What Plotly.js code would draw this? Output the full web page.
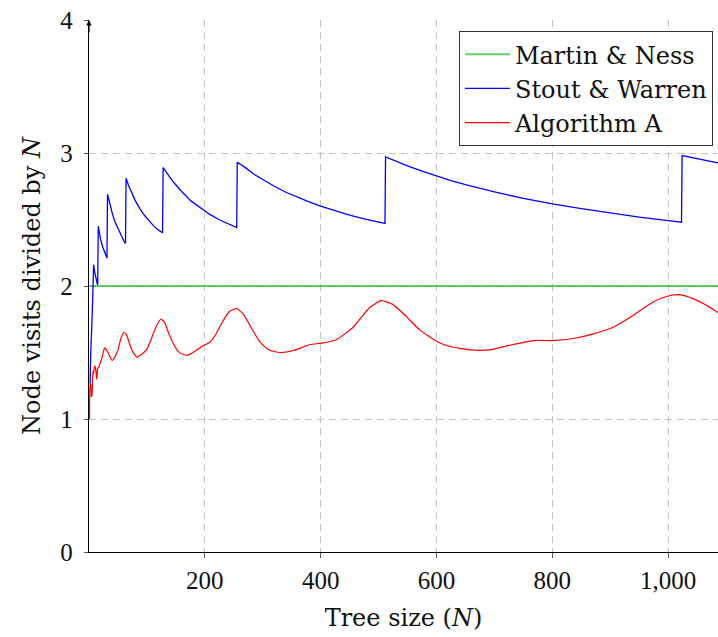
<!DOCTYPE html>
<html>
<head>
<meta charset="utf-8">
<script src="https://cdn.plot.ly/plotly-3.0.1.min.js"></script>
<style>
  html, body { margin: 0; padding: 0; background: #fff; }
  #chart { width: 718px; height: 637px; }
</style>
</head>
<body>
<div id="chart"></div>
<script>
// ---- data ----
const martinN = [1, 1086];
const martinY = [2.0, 2.0];

const stoutN = [1, 2, 3, 4, 5, 6, 7, 8, 10, 12, 14, 15,
  16, 18, 20, 24, 28, 31,
  32, 36, 40, 44, 48, 52, 56, 60, 63,
  64, 68, 72, 80, 88, 96, 104, 112, 120, 127,
  128, 136, 144, 152, 160, 176, 192, 208, 224, 240, 255,
  256, 270, 285, 300, 320, 340, 360, 380, 400, 425, 450, 475, 500, 511,
  512, 530, 550, 575, 600, 625, 650, 675, 700, 750, 800, 850, 900, 950, 1000, 1023,
  1024, 1050, 1086];
const stoutY = [1.27, 1.27, 1.50, 1.72, 1.72, 1.85, 2.00, 2.16, 2.10, 2.05, 2.02, 2.01,
  2.45, 2.40, 2.35, 2.29, 2.24, 2.21,
  2.69, 2.61, 2.55, 2.49, 2.45, 2.41, 2.38, 2.34, 2.32,
  2.81, 2.76, 2.72, 2.64, 2.58, 2.53, 2.49, 2.45, 2.42, 2.40,
  2.89, 2.84, 2.79, 2.75, 2.71, 2.64, 2.59, 2.54, 2.50, 2.47, 2.44,
  2.93, 2.89, 2.84, 2.80, 2.75, 2.705, 2.667, 2.632, 2.60, 2.565, 2.533, 2.505, 2.48, 2.47,
  2.97, 2.937, 2.903, 2.863, 2.827, 2.793, 2.762, 2.734, 2.707, 2.659, 2.617, 2.581, 2.548, 2.518, 2.492, 2.48,
  2.98, 2.955, 2.925];

const algoN = [1, 2, 3, 4, 5, 6, 7, 8, 9, 10, 12, 13, 14, 15, 17, 19, 21, 24, 27, 30, 33, 36, 40,
  45, 50, 55, 60, 64, 66, 72, 78, 83, 92, 100, 109, 117, 124, 130, 138, 147, 155, 163, 170,
  183, 197, 208, 218, 229, 243, 255, 266, 281, 295, 310, 330, 353, 382, 402, 428, 456, 485, 505,
  525, 548, 571, 600, 623, 658, 692, 727, 767, 800, 836, 871, 905, 940, 974, 1000, 1020,
  1043, 1066, 1086];
const algoY = [1.00, 1.26, 1.26, 1.17, 1.17, 1.30, 1.36, 1.34, 1.38, 1.40, 1.36, 1.30, 1.33, 1.38, 1.39, 1.42, 1.44, 1.49, 1.535, 1.52, 1.50, 1.47, 1.44,
  1.47, 1.52, 1.605, 1.65, 1.64, 1.62, 1.54, 1.49, 1.465, 1.49, 1.525, 1.62, 1.705, 1.75, 1.73, 1.64, 1.555, 1.505, 1.485, 1.48,
  1.51, 1.55, 1.575, 1.63, 1.72, 1.81, 1.83, 1.79, 1.68, 1.58, 1.52, 1.50, 1.515, 1.56, 1.57, 1.60, 1.69, 1.84, 1.89,
  1.86, 1.77, 1.67, 1.585, 1.545, 1.52, 1.52, 1.555, 1.59, 1.59, 1.605, 1.64, 1.69, 1.78, 1.88, 1.925, 1.935,
  1.905, 1.855, 1.80];

const xTickVals = [200, 400, 600, 800, 1000];
const xTickText = ['200', '400', '600', '800', '1,000'];
const yTickVals = [0, 1, 2, 3, 4];
const yTickText = ['0', '1', '2', '3', '4'];

// ---- chart ----
const textFont = { family: 'DejaVu Serif, serif', size: 24, color: '#111' };
const tickFont = { family: 'Liberation Serif, serif', size: 25, color: '#111' };

const traces = [
  { x: martinN, y: martinY, name: 'Martin &amp; Ness', mode: 'lines', type: 'scatter',
    line: { color: 'rgba(0,175,0,0.6)', width: 2 } },
  { x: stoutN, y: stoutY, name: 'Stout &amp; Warren', mode: 'lines', type: 'scatter',
    line: { color: '#0000ff', width: 1.3 } },
  { x: algoN, y: algoY, name: 'Algorithm A', mode: 'lines', type: 'scatter',
    line: { color: '#ff0000', width: 1.2, shape: 'spline', smoothing: 0.5 } }
];

const layout = {
  width: 718, height: 637,
  margin: { l: 89, r: 0, t: 20, b: 85, pad: 0 },
  paper_bgcolor: '#fff', plot_bgcolor: '#fff',
  showlegend: true,
  xaxis: {
    range: [0, 1086], tickmode: 'array', tickvals: xTickVals, ticktext: xTickText,
    showgrid: true, gridcolor: '#c4c4c4', gridwidth: 1, griddash: '7px,5px',
    zeroline: false, showline: true, linecolor: '#000', linewidth: 1.2,
    ticks: 'outside', ticklen: 5, tickcolor: '#555', tickwidth: 1,
    tickfont: tickFont, ticklabelstandoff: 1,
    title: { text: 'Tree size (<i>N</i>)', font: textFont, standoff: 16 }
  },
  yaxis: {
    range: [0, 4], tickmode: 'array', tickvals: yTickVals, ticktext: yTickText,
    showgrid: true, gridcolor: '#c4c4c4', gridwidth: 1, griddash: '7px,5px',
    zeroline: false, showline: true, linecolor: '#000', linewidth: 1.2,
    ticks: 'outside', ticklen: 4, tickcolor: '#555', tickwidth: 1,
    tickfont: tickFont, ticklabelstandoff: 6,
    title: { text: 'Node visits divided by <i>N</i>', font: textFont, standoff: 12 }
  },
  legend: {
    x: 0.992, y: 0.979, xanchor: 'right', yanchor: 'top',
    bgcolor: '#fff', bordercolor: '#333', borderwidth: 1,
    font: textFont, itemwidth: 45, tracegroupgap: 0
  },
  annotations: [
    { xref: 'paper', yref: 'paper', x: 0, y: 1, ax: 0, ay: 14, text: '',
      showarrow: true, arrowhead: 2, arrowsize: 0.9, arrowwidth: 1.2, arrowcolor: '#000', standoff: 0 }
  ]
};

Plotly.newPlot('chart', traces, layout, { displayModeBar: false, staticPlot: true });
</script>
</body>
</html>
